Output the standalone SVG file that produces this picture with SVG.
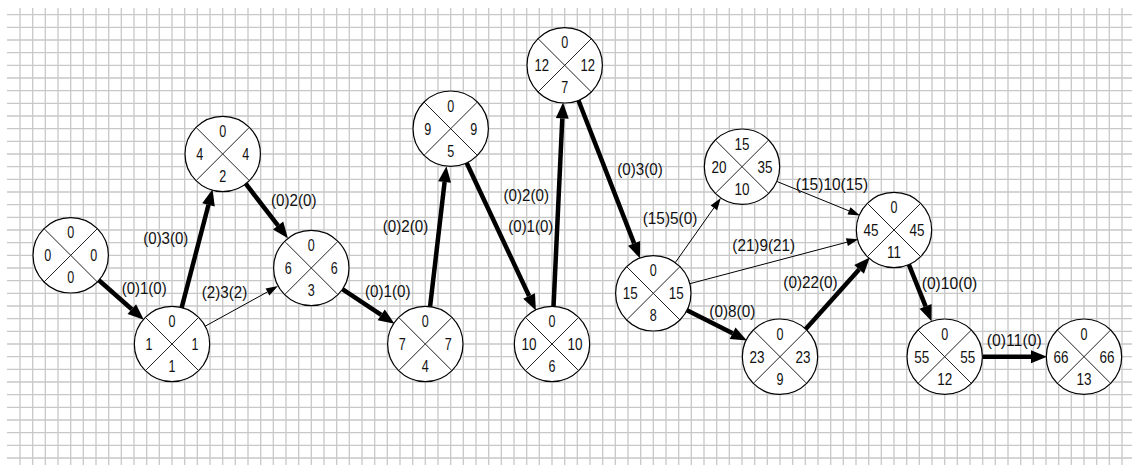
<svg xmlns="http://www.w3.org/2000/svg" xmlns:xlink="http://www.w3.org/1999/xlink" width="1132" height="465" viewBox="0 0 1132 465">
<defs>
<style>
.grid{stroke:#c8c8c8;stroke-width:1.3;fill:none}
.nb circle{fill:#fff;stroke:#000;stroke-width:1.2}
.nb path{stroke:#222;stroke-width:1;fill:none}
text{font-family:"Liberation Sans",Arial,sans-serif;font-size:16.5px;fill:#111;text-anchor:middle}
.crit{stroke:#000;stroke-width:4.5;fill:none;marker-end:url(#ah)}
.norm{stroke:#000;stroke-width:1;fill:none;marker-end:url(#as)}
</style>
<marker id="ah" markerUnits="userSpaceOnUse" viewBox="0 0 16 13" markerWidth="16" markerHeight="13" refX="0" refY="6.5" orient="auto" overflow="visible"><path d="M0,0 L16,6.5 L0,13 z" fill="#000"/></marker>
<marker id="as" markerUnits="userSpaceOnUse" viewBox="0 0 12 8" markerWidth="12" markerHeight="8" refX="0" refY="4" orient="auto" overflow="visible"><path d="M0,0 L12,4 L0,8 z" fill="#000"/></marker>
<g id="nb" class="nb"><circle cx="0" cy="0" r="37.7"/><path d="M-26.7,-26.7 L26.7,26.7 M26.7,-26.7 L-26.7,26.7"/></g>
</defs>
<rect width="1132" height="465" fill="#fff"/>
<g id="grid" class="grid">
<path d="M20 8V465M32.7 8V465M45.3 8V465M58 8V465M70.7 8V465M83.3 8V465M96 8V465M108.7 8V465M121.3 8V465M134 8V465M146.7 8V465M159.3 8V465M172 8V465M184.7 8V465M197.3 8V465M210 8V465M222.7 8V465M235.3 8V465M248 8V465M260.7 8V465M273.3 8V465M286 8V465M298.7 8V465M311.3 8V465M324 8V465M336.7 8V465M349.3 8V465M362 8V465M374.7 8V465M387.3 8V465M400 8V465M412.7 8V465M425.3 8V465M438 8V465M450.7 8V465M463.3 8V465M476 8V465M488.7 8V465M501.3 8V465M514 8V465M526.7 8V465M539.3 8V465M552 8V465M564.7 8V465M577.3 8V465M590 8V465M602.7 8V465M615.3 8V465M628 8V465M640.7 8V465M653.3 8V465M666 8V465M678.7 8V465M691.3 8V465M704 8V465M716.7 8V465M729.3 8V465M742 8V465M754.7 8V465M767.3 8V465M780 8V465M792.7 8V465M805.3 8V465M818 8V465M830.7 8V465M843.3 8V465M856 8V465M868.7 8V465M881.3 8V465M894 8V465M906.7 8V465M919.3 8V465M932 8V465M944.7 8V465M957.3 8V465M970 8V465M982.7 8V465M995.3 8V465M1008 8V465M1020.7 8V465M1033.3 8V465M1046 8V465M1058.7 8V465M1071.3 8V465M1084 8V465M1096.7 8V465M1109.3 8V465M1122 8V465"/>
<path d="M7 14.7H1132M7 27.3H1132M7 40H1132M7 52.7H1132M7 65.3H1132M7 78H1132M7 90.7H1132M7 103.3H1132M7 116H1132M7 128.7H1132M7 141.3H1132M7 154H1132M7 166.7H1132M7 179.3H1132M7 192H1132M7 204.7H1132M7 217.3H1132M7 230H1132M7 242.7H1132M7 255.3H1132M7 268H1132M7 280.7H1132M7 293.3H1132M7 306H1132M7 318.7H1132M7 331.3H1132M7 344H1132M7 356.7H1132M7 369.3H1132M7 382H1132M7 394.7H1132M7 407.3H1132M7 420H1132M7 432.7H1132M7 445.3H1132M7 458H1132"/>
</g>
<g id="connectors">
<path class="crit" d="M98.9,280.3 L131.8,309.2"/>
<path class="crit" d="M181.5,308.2 L208.5,204.8"/>
<path class="norm" d="M204.8,326.4 L267.5,291.9"/>
<path class="crit" d="M244.9,182.7 L278.1,225.6"/>
<path class="crit" d="M342,288.8 L381.2,314.8"/>
<path class="crit" d="M430,307.3 L444.6,182.1"/>
<path class="crit" d="M466.7,163 L529.1,296"/>
<path class="crit" d="M553.5,307 L562.3,118.4"/>
<path class="crit" d="M578.3,100 L634.1,243.4"/>
<path class="norm" d="M675.2,262.7 L713.9,207.9"/>
<path class="norm" d="M689.8,283.7 L846.9,242.2"/>
<path class="norm" d="M777.2,181.6 L849,210.9"/>
<path class="crit" d="M687,310.2 L732.6,333.3"/>
<path class="crit" d="M805.3,329.5 L859.1,269.4"/>
<path class="crit" d="M908.8,264.3 L925.6,306.3"/>
<path class="crit" d="M983,356.7 L1031,356.7"/>
<text x="144.2" y="294" textLength="45" lengthAdjust="spacingAndGlyphs">(0)1(0)</text>
<text x="165.8" y="244" textLength="45" lengthAdjust="spacingAndGlyphs">(0)3(0)</text>
<text x="224.5" y="297.7" textLength="45.5" lengthAdjust="spacingAndGlyphs">(2)3(2)</text>
<text x="293.8" y="206" textLength="45.5" lengthAdjust="spacingAndGlyphs">(0)2(0)</text>
<text x="387.8" y="296.7" textLength="45.5" lengthAdjust="spacingAndGlyphs">(0)1(0)</text>
<text x="405.5" y="231.7" textLength="45.5" lengthAdjust="spacingAndGlyphs">(0)2(0)</text>
<text x="526.2" y="200.7" textLength="45.5" lengthAdjust="spacingAndGlyphs">(0)2(0)</text>
<text x="530.8" y="231.7" textLength="45" lengthAdjust="spacingAndGlyphs">(0)1(0)</text>
<text x="640" y="175" textLength="45.4" lengthAdjust="spacingAndGlyphs">(0)3(0)</text>
<text x="670" y="224" textLength="54.6" lengthAdjust="spacingAndGlyphs">(15)5(0)</text>
<text x="832" y="190" textLength="72.3" lengthAdjust="spacingAndGlyphs">(15)10(15)</text>
<text x="763.7" y="250.7" textLength="62.7" lengthAdjust="spacingAndGlyphs">(21)9(21)</text>
<text x="810.5" y="288.3" textLength="54.4" lengthAdjust="spacingAndGlyphs">(0)22(0)</text>
<text x="732.3" y="317" textLength="46" lengthAdjust="spacingAndGlyphs">(0)8(0)</text>
<text x="949.5" y="289.3" textLength="55.6" lengthAdjust="spacingAndGlyphs">(0)10(0)</text>
<text x="1014.2" y="345.7" textLength="55" lengthAdjust="spacingAndGlyphs">(0)11(0)</text>
</g>
<g id="n1" transform="translate(70.7,255.3)"><use xlink:href="#nb"/><text y="-17" textLength="7" lengthAdjust="spacingAndGlyphs">0</text><text x="-23" y="6" textLength="7" lengthAdjust="spacingAndGlyphs">0</text><text x="23" y="6" textLength="7" lengthAdjust="spacingAndGlyphs">0</text><text y="28" textLength="7" lengthAdjust="spacingAndGlyphs">0</text></g>
<g id="n2" transform="translate(172,344)"><use xlink:href="#nb"/><text y="-17" textLength="7" lengthAdjust="spacingAndGlyphs">0</text><text x="-23" y="6" textLength="7" lengthAdjust="spacingAndGlyphs">1</text><text x="23" y="6" textLength="7" lengthAdjust="spacingAndGlyphs">1</text><text y="28" textLength="7" lengthAdjust="spacingAndGlyphs">1</text></g>
<g id="n3" transform="translate(222.7,154)"><use xlink:href="#nb"/><text y="-17" textLength="7" lengthAdjust="spacingAndGlyphs">0</text><text x="-23" y="6" textLength="7" lengthAdjust="spacingAndGlyphs">4</text><text x="23" y="6" textLength="7" lengthAdjust="spacingAndGlyphs">4</text><text y="28" textLength="7" lengthAdjust="spacingAndGlyphs">2</text></g>
<g id="n4" transform="translate(311.3,268)"><use xlink:href="#nb"/><text y="-17" textLength="7" lengthAdjust="spacingAndGlyphs">0</text><text x="-23" y="6" textLength="7" lengthAdjust="spacingAndGlyphs">6</text><text x="23" y="6" textLength="7" lengthAdjust="spacingAndGlyphs">6</text><text y="28" textLength="7" lengthAdjust="spacingAndGlyphs">3</text></g>
<g id="n5" transform="translate(425.3,344)"><use xlink:href="#nb"/><text y="-17" textLength="7" lengthAdjust="spacingAndGlyphs">0</text><text x="-23" y="6" textLength="7" lengthAdjust="spacingAndGlyphs">7</text><text x="23" y="6" textLength="7" lengthAdjust="spacingAndGlyphs">7</text><text y="28" textLength="7" lengthAdjust="spacingAndGlyphs">4</text></g>
<g id="n6" transform="translate(450.7,128.7)"><use xlink:href="#nb"/><text y="-17" textLength="7" lengthAdjust="spacingAndGlyphs">0</text><text x="-23" y="6" textLength="7" lengthAdjust="spacingAndGlyphs">9</text><text x="23" y="6" textLength="7" lengthAdjust="spacingAndGlyphs">9</text><text y="28" textLength="7" lengthAdjust="spacingAndGlyphs">5</text></g>
<g id="n7" transform="translate(564.7,65.3)"><use xlink:href="#nb"/><text y="-17" textLength="7" lengthAdjust="spacingAndGlyphs">0</text><text x="-23" y="6" textLength="14.5" lengthAdjust="spacingAndGlyphs">12</text><text x="23" y="6" textLength="14.5" lengthAdjust="spacingAndGlyphs">12</text><text y="28" textLength="7" lengthAdjust="spacingAndGlyphs">7</text></g>
<g id="n8" transform="translate(552,344)"><use xlink:href="#nb"/><text y="-17" textLength="7" lengthAdjust="spacingAndGlyphs">0</text><text x="-23" y="6" textLength="15" lengthAdjust="spacingAndGlyphs">10</text><text x="23" y="6" textLength="15" lengthAdjust="spacingAndGlyphs">10</text><text y="28" textLength="7" lengthAdjust="spacingAndGlyphs">6</text></g>
<g id="n9" transform="translate(653.3,293.3)"><use xlink:href="#nb"/><text y="-17" textLength="7" lengthAdjust="spacingAndGlyphs">0</text><text x="-23" y="6" textLength="15" lengthAdjust="spacingAndGlyphs">15</text><text x="23" y="6" textLength="15" lengthAdjust="spacingAndGlyphs">15</text><text y="28" textLength="7" lengthAdjust="spacingAndGlyphs">8</text></g>
<g id="n10" transform="translate(742,166.7)"><use xlink:href="#nb"/><text y="-17" textLength="15" lengthAdjust="spacingAndGlyphs">15</text><text x="-23" y="6" textLength="15" lengthAdjust="spacingAndGlyphs">20</text><text x="23" y="6" textLength="15" lengthAdjust="spacingAndGlyphs">35</text><text y="28" textLength="15" lengthAdjust="spacingAndGlyphs">10</text></g>
<g id="n11" transform="translate(894,230)"><use xlink:href="#nb"/><text y="-17" textLength="7" lengthAdjust="spacingAndGlyphs">0</text><text x="-23" y="6" textLength="15" lengthAdjust="spacingAndGlyphs">45</text><text x="23" y="6" textLength="15" lengthAdjust="spacingAndGlyphs">45</text><text y="28" textLength="14" lengthAdjust="spacingAndGlyphs">11</text></g>
<g id="n12" transform="translate(780,356.7)"><use xlink:href="#nb"/><text y="-17" textLength="7" lengthAdjust="spacingAndGlyphs">0</text><text x="-23" y="6" textLength="15" lengthAdjust="spacingAndGlyphs">23</text><text x="23" y="6" textLength="15" lengthAdjust="spacingAndGlyphs">23</text><text y="28" textLength="7" lengthAdjust="spacingAndGlyphs">9</text></g>
<g id="n13" transform="translate(944.7,356.7)"><use xlink:href="#nb"/><text y="-17" textLength="7" lengthAdjust="spacingAndGlyphs">0</text><text x="-23" y="6" textLength="15" lengthAdjust="spacingAndGlyphs">55</text><text x="23" y="6" textLength="15" lengthAdjust="spacingAndGlyphs">55</text><text y="28" textLength="15" lengthAdjust="spacingAndGlyphs">12</text></g>
<g id="n14" transform="translate(1084,356.7)"><use xlink:href="#nb"/><text y="-17" textLength="7" lengthAdjust="spacingAndGlyphs">0</text><text x="-23" y="6" textLength="15" lengthAdjust="spacingAndGlyphs">66</text><text x="23" y="6" textLength="15" lengthAdjust="spacingAndGlyphs">66</text><text y="28" textLength="15" lengthAdjust="spacingAndGlyphs">13</text></g>
</svg>
